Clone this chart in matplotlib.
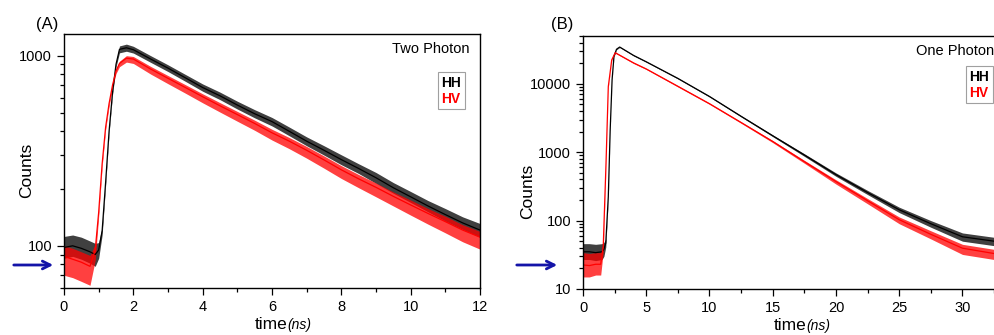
import matplotlib

matplotlib.use("Agg")
import matplotlib.pyplot as plt
import numpy as np
from matplotlib.lines import Line2D
from matplotlib.patches import FancyArrowPatch
from matplotlib.ticker import LogLocator, MultipleLocator, NullFormatter

plt.rcParams["font.family"] = ["Liberation Sans", "DejaVu Sans"]

# (A) two-photon decay: time [ns], centre, upper and lower edge of the noise band
two_time = [0, 0.25, 0.5, 0.75, 0.9, 1.0, 1.1, 1.2, 1.3, 1.4, 1.5, 1.6, 1.8, 2.0, 2.5, 3.0,
            3.5, 4.0, 4.5, 5.0, 5.5, 6.0, 6.5, 7.0, 7.5, 8.0, 8.5, 9.0, 9.5, 10.0, 10.5,
            11.0, 11.5, 12.0]
two_hh = [98, 100, 97, 93, 90, 95, 120, 215, 400, 640, 900, 1080, 1100, 1075, 960, 860,
          765, 680, 615, 550, 495, 450, 400, 355, 318, 284, 255, 228, 202, 181, 162,
          146, 132, 121]
two_hh_hi = [112, 114, 111, 106, 103, 104, 126, 222, 410, 655, 925, 1125, 1150, 1120, 1000, 895,
             797, 710, 643, 576, 520, 473, 421, 374, 336, 301, 270, 243, 215, 193, 173,
             157, 142, 131]
two_hh_lo = [86, 88, 85, 81, 78, 86, 114, 208, 390, 625, 875, 1035, 1055, 1032, 922, 825,
             733, 650, 587, 524, 471, 427, 379, 336, 300, 267, 240, 213, 189, 169, 151,
             135, 122, 111]
two_hv = [88, 85, 82, 78, 95, 150, 270, 420, 560, 700, 830, 910, 970, 960, 850, 760,
          680, 608, 545, 490, 440, 393, 355, 318, 283, 251, 225, 203, 182, 164, 148,
          134, 121, 111]
two_hv_hi = [100, 97, 93, 89, 102, 156, 278, 430, 574, 717, 850, 935, 1000, 990, 878, 786,
             704, 630, 566, 509, 458, 410, 371, 333, 297, 264, 237, 214, 192, 174, 157,
             143, 129, 119]
two_hv_lo = [70, 68, 65, 62, 84, 143, 260, 408, 543, 680, 805, 875, 925, 910, 800, 712,
             635, 565, 505, 452, 405, 360, 324, 289, 256, 226, 202, 181, 162, 145, 130,
             117, 105, 96]

# (B) one-photon decay
one_time_hh = [0, 0.5, 1.0, 1.5, 1.65, 1.8, 2.0, 2.15, 2.3, 2.45, 2.65, 2.9, 4.0, 5.0,
               7.5, 10.0, 12.5, 15.0, 17.5, 20.0, 22.5, 25.0, 27.5, 30.0, 32.5, 34.0]
one_hh = [35, 35, 34, 35, 38, 47, 224, 2140, 11500, 25300, 32000, 34500, 26000, 21000,
          12000, 6530, 3350, 1740, 910, 470, 257, 144, 90, 58, 50, 46]
one_hh_hi = [46, 46, 45, 46, 48, 54, 235, 2180, 11700, 25700, 32500, 35000, 26400, 21300,
             12200, 6650, 3420, 1790, 950, 498, 276, 157, 100, 66, 57, 53]
one_hh_lo = [27, 27, 26, 27, 30, 41, 213, 2100, 11300, 24900, 31500, 34000, 25600, 20700,
             11800, 6410, 3280, 1690, 870, 444, 240, 131, 80, 50, 43, 40]
one_time_hv = [0, 0.5, 1.0, 1.4, 1.6, 1.82, 2.0, 2.27, 2.55, 4.0, 5.0, 7.5, 10.0, 12.5,
               15.0, 17.5, 20.0, 22.5, 25.0, 27.5, 30.0, 32.5, 34.0]
one_hv = [22.5, 22, 23, 23, 42, 690, 9100, 22300, 28500, 20200, 16500, 9200, 5120, 2720,
          1435, 728, 372, 195, 103, 63, 39.5, 33, 31]
one_hv_hi = [34, 33, 34, 34, 47, 710, 9300, 22700, 29000, 20600, 16800, 9400, 5230, 2780,
             1480, 760, 395, 210, 113, 71, 45, 38, 36]
one_hv_lo = [15, 15, 16, 16, 35, 670, 8900, 21900, 28000, 19800, 16200, 9000, 5010, 2650,
             1380, 690, 342, 176, 90, 54, 32, 27, 25]

HH_COLOR = "#000000"
HV_COLOR = "#ff0000"


def draw_trace(ax, t, mid, hi, lo, color):
    ax.fill_between(t, lo, hi, color=color, alpha=0.75, linewidth=0)
    ax.plot(t, mid, color=color, linewidth=0.9)


def style_axes(ax):
    for spine in ax.spines.values():
        spine.set_linewidth(1.0)
    ax.tick_params(which="both", direction="out", top=False, right=False,
                   labelsize=10.5, width=0.9)
    ax.tick_params(which="major", length=5)
    ax.tick_params(which="minor", length=3)
    ax.yaxis.set_minor_locator(LogLocator(base=10, subs=np.arange(2, 10)))
    ax.yaxis.set_minor_formatter(NullFormatter())


def time_label(ax, x, y):
    ax.text(x, y, "time", transform=ax.transAxes, ha="right", va="baseline", fontsize=12.5)
    ax.text(x, y, "(ns)", transform=ax.transAxes, ha="left", va="baseline",
            fontsize=10, style="italic")


def hh_hv_legend(ax, x, y):
    handles = [Line2D([], [], linestyle="none"), Line2D([], [], linestyle="none")]
    leg = ax.legend(handles, ["HH", "HV"], loc="upper left", bbox_to_anchor=(x, y),
                    handlelength=0, handletextpad=0, borderpad=0.25, labelspacing=0.15,
                    prop={"weight": "bold", "size": 10}, fancybox=False,
                    framealpha=1, edgecolor="#a0a0a0", borderaxespad=0)
    leg.get_frame().set_linewidth(0.8)
    for text, color in zip(leg.get_texts(), [HH_COLOR, HV_COLOR]):
        text.set_color(color)


fig = plt.figure(figsize=(9.94, 3.35), dpi=100)

# panel A
ax_a = fig.add_axes([64 / 994, 47 / 335, 416 / 994, 254 / 335])
draw_trace(ax_a, two_time, two_hh, two_hh_hi, two_hh_lo, HH_COLOR)
draw_trace(ax_a, two_time, two_hv, two_hv_hi, two_hv_lo, HV_COLOR)
ax_a.set_yscale("log")
ax_a.set_xlim(0, 12)
ax_a.set_ylim(60, 1300)
ax_a.set_yticks([100, 1000])
ax_a.set_yticklabels(["100", "1000"])
ax_a.xaxis.set_major_locator(MultipleLocator(2))
ax_a.xaxis.set_minor_locator(MultipleLocator(1))
style_axes(ax_a)
ax_a.text(0.974, 0.941, "Two Photon", transform=ax_a.transAxes, ha="right", va="center",
          fontsize=10.5)
hh_hv_legend(ax_a, 0.899, 0.850)
time_label(ax_a, 0.538, -0.162)

# panel B (its right edge runs past the figure, as in the source)
ax_b = fig.add_axes([583 / 994, 46 / 335, 425 / 994, 253 / 335])
draw_trace(ax_b, one_time_hh, one_hh, one_hh_hi, one_hh_lo, HH_COLOR)
draw_trace(ax_b, one_time_hv, one_hv, one_hv_hi, one_hv_lo, HV_COLOR)
ax_b.set_yscale("log")
ax_b.set_xlim(0, 33.6)
ax_b.set_ylim(10, 50000)
ax_b.set_yticks([10, 100, 1000, 10000])
ax_b.set_yticklabels(["10", "100", "1000", "10000"])
ax_b.xaxis.set_major_locator(MultipleLocator(5))
ax_b.xaxis.set_minor_locator(MultipleLocator(2.5))
style_axes(ax_b)
ax_b.text(0.784, 0.941, "One Photon", transform=ax_b.transAxes, ha="left", va="center",
          fontsize=10.5)
hh_hv_legend(ax_b, 0.901, 0.881)
time_label(ax_b, 0.525, -0.162)

# panel letters and y labels
fig.text(36 / 994, 1 - 25 / 335, "(A)", ha="left", va="center", fontsize=12)
fig.text(551 / 994, 1 - 24 / 335, "(B)", ha="left", va="center", fontsize=12)
fig.text(27 / 994, 1 - 170 / 335, "Counts", rotation=90, ha="center", va="center", fontsize=12.5)
fig.text(528 / 994, 1 - 191 / 335, "Counts", rotation=90, ha="center", va="center", fontsize=12.5)

# blue arrows marking the background level
for x0, x1 in [(11, 56), (514, 560)]:
    fig.add_artist(FancyArrowPatch(
        (x0 / 994, 1 - 265 / 335), (x1 / 994, 1 - 265 / 335),
        transform=fig.transFigure, arrowstyle="->", mutation_scale=14,
        color="#1414a8", linewidth=2))

fig.savefig("out.png", dpi=100)
